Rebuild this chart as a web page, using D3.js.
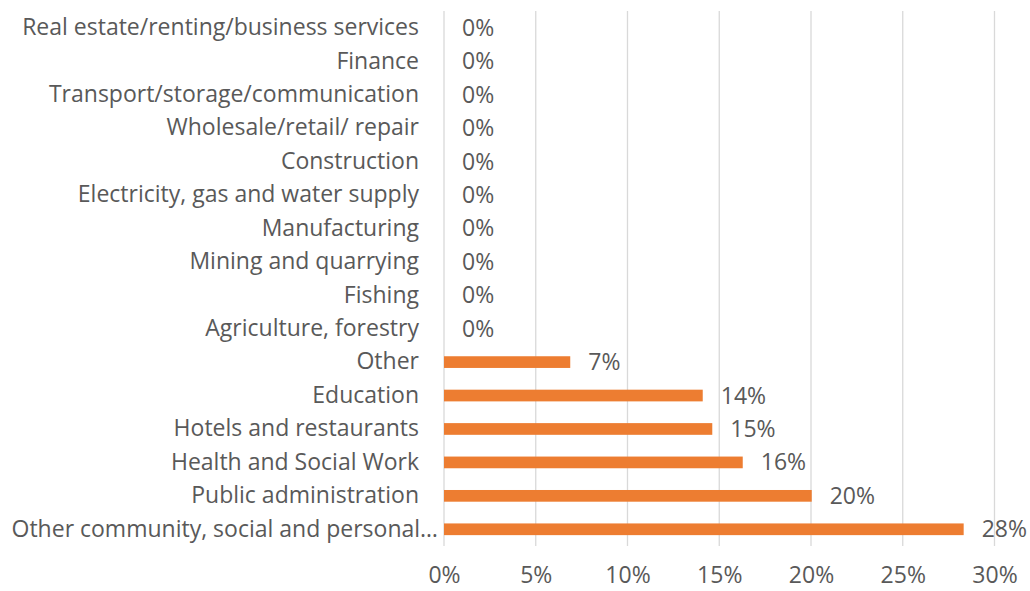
<!DOCTYPE html>
<html>
<head>
<meta charset="utf-8">
<script src="https://cdn.jsdelivr.net/npm/d3@7"></script>
<style>
  html, body { margin: 0; padding: 0; background: #ffffff; }
  svg { display: block; }
  text { font-family: "Open Sans", Lato, sans-serif; fill: #595959; }
</style>
</head>
<body>
<svg id="chart" width="1030" height="591"></svg>
<script>
// Industry categories, top to bottom
const categories = [
  "Real estate/renting/business services",
  "Finance",
  "Transport/storage/communication",
  "Wholesale/retail/ repair",
  "Construction",
  "Electricity, gas and water supply",
  "Manufacturing",
  "Mining and quarrying",
  "Fishing",
  "Agriculture, forestry",
  "Other",
  "Education",
  "Hotels and restaurants",
  "Health and Social Work",
  "Public administration",
  "Other community, social and personal\u2026"
];
// Share of each industry
const shares = [0, 0, 0, 0, 0, 0, 0, 0, 0, 0,
  0.0688, 0.1410, 0.1462, 0.1628, 0.2004, 0.2832];
// Axis ticks
const tickValues = [0, 0.05, 0.10, 0.15, 0.20, 0.25, 0.30];

const svg = d3.select("#chart");
const margin = { top: 11, right: 36, bottom: 45, left: 444 };
const width = 1030 - margin.left - margin.right;
const height = 591 - margin.top - margin.bottom;
const fontSize = 23;

const g = svg.append("g").attr("transform", `translate(${margin.left},${margin.top})`);

const x = d3.scaleLinear().domain([0, 0.30]).range([0, 550.5]);
const y = d3.scaleBand().domain(categories).range([0, height]).paddingInner(0.65).paddingOuter(0.325);

const pct = d3.format(".0%");

// Vertical gridlines
g.append("g")
  .selectAll("line")
  .data(tickValues)
  .join("line")
  .attr("x1", d => x(d)).attr("x2", d => x(d))
  .attr("y1", 0).attr("y2", height)
  .attr("stroke", "#d9d9d9")
  .attr("stroke-width", 1.3);

// X axis labels
const xAxis = d3.axisBottom(x).tickValues(tickValues).tickFormat(pct).tickSize(0).tickPadding(21);
const xg = g.append("g").attr("transform", `translate(0,${height})`).call(xAxis);
xg.select(".domain").remove();
xg.selectAll("text").attr("font-size", fontSize).style("font-family", null).attr("fill", "#595959");

// Category labels; a truncated label lets its ellipsis hang past the label column
const yAxis = d3.axisLeft(y).tickSize(0).tickPadding(25);
const yg = g.append("g").call(yAxis);
yg.select(".domain").remove();
yg.selectAll("text")
  .attr("font-size", fontSize)
  .style("font-family", null)
  .attr("fill", "#595959")
  .attr("dx", d => d.endsWith("\u2026") ? 19 : 0);

// Bars
g.append("g")
  .selectAll("rect")
  .data(categories)
  .join("rect")
  .attr("x", 0)
  .attr("y", d => y(d))
  .attr("width", (d, i) => x(shares[i]))
  .attr("height", y.bandwidth())
  .attr("fill", "#ED7D31");

// Value labels
g.append("g")
  .selectAll("text")
  .data(categories)
  .join("text")
  .attr("x", (d, i) => x(shares[i]) + 18)
  .attr("y", d => y(d) + y.bandwidth() / 2)
  .attr("dy", "0.35em")
  .attr("font-size", fontSize)
  .text((d, i) => pct(shares[i]));
</script>
</body>
</html>
